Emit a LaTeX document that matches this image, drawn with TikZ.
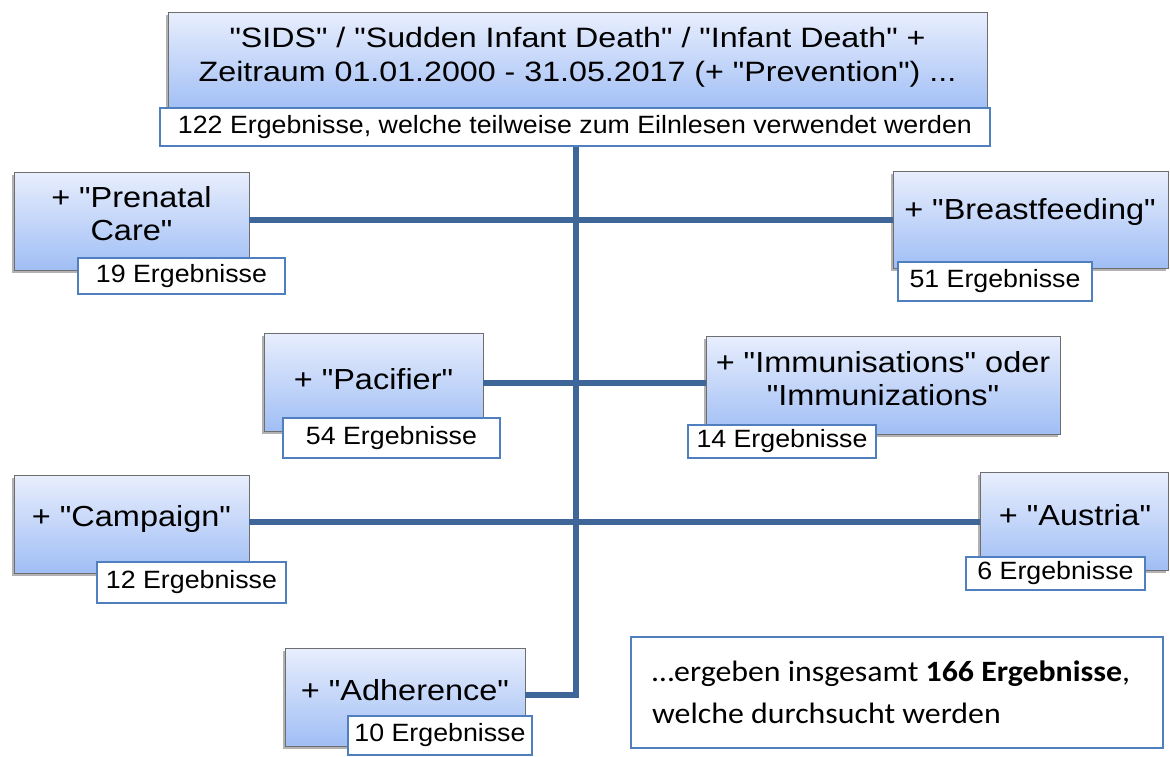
\documentclass[tikz,border=0pt]{standalone}
\usepackage{fontspec}
\setmainfont{Liberation Sans}[Ligatures=TeXOff]
\newfontfamily\headfont{Liberation Sans}[Ligatures=TeXOff, FakeStretch=1.15]
\newfontfamily\termfont{Liberation Sans}[Ligatures=TeXOff, FakeStretch=1.12]
\newfontfamily\tagfont{Liberation Sans}[Ligatures=TeXOff, FakeStretch=1.07]
\newfontfamily\calibrifont{Carlito}[FakeStretch=1.08]
\usetikzlibrary{shadows}
\definecolor{boxtop}{RGB}{232,238,253}
\definecolor{boxbot}{RGB}{160,190,245}
\definecolor{boxedge}{RGB}{110,110,110}
\definecolor{tagedge}{RGB}{79,127,191}
\definecolor{linkblue}{RGB}{62,102,152}
\tikzset{
  termbox/.style={rectangle, draw=boxedge, line width=0.8pt, top color=boxtop, bottom color=boxbot,
    inner sep=0pt, drop shadow={shadow xshift=-2pt, shadow yshift=-3pt, opacity=0.3, fill=black}},
  termtext/.style={font=\termfont\fontsize{29}{33}\selectfont, align=center, inner sep=0pt},
  headtext/.style={font=\headfont\fontsize{28}{34.5}\selectfont, align=center, inner sep=0pt},
  tagbox/.style={rectangle, draw=tagedge, line width=1.4pt, fill=white, inner sep=0pt,
    font=\tagfont\fontsize{25}{29}\selectfont},
  conn/.style={draw=linkblue, line width=5.5pt},
  sumbox/.style={rectangle, draw=tagedge, line width=1.4pt, fill=white, inner sep=0pt}
}
\begin{document}
\begin{tikzpicture}[x=1pt,y=-1pt]
\useasboundingbox (0,0) rectangle (1170,756);

% spine end points
\coordinate (spinetop) at (576,146);
\coordinate (spinebot) at (576,695);

% root term
\node[termbox, minimum width=819, minimum height=100] (root) at (577.5,62) {};
\node[headtext] (roottext) at (577.5,57) {"SIDS" / "Sudden Infant Death" / "Infant Death" +\\Zeitraum 01.01.2000 - 31.05.2017 (+ "Prevention") ...};

% sub terms
\node[termbox, minimum width=235, minimum height=98] (prenatal) at (131.5,221) {};
\node[termtext] (prenataltext) at (131.5,214) {+ "Prenatal\\Care"};

\node[termbox, minimum width=275, minimum height=97] (breast) at (1030.5,219.5) {};
\node[termtext] (breasttext) at (1030,212) {+ "Breastfeeding"};

\node[termbox, minimum width=219, minimum height=98] (pacifier) at (373.5,382) {};
\node[termtext] (pacifiertext) at (373.5,379) {+ "Pacifier"};

\node[termbox, minimum width=354, minimum height=98] (immun) at (883,385) {};
\node[termtext] (immuntext) at (883,379) {+ "Immunisations" oder\\"Immunizations"};

\node[termbox, minimum width=235, minimum height=98] (campaign) at (131.5,524) {};
\node[termtext] (campaigntext) at (131.5,519) {+ "Campaign"};

\node[termbox, minimum width=188, minimum height=98] (austria) at (1074,521) {};
\node[termtext] (austriatext) at (1075,515) {+ "Austria"};

\node[termbox, minimum width=240, minimum height=98] (adherence) at (405,697) {};
\node[termtext] (adherencetext) at (405,690) {+ "Adherence"};

% connectors
\draw[conn] (spinetop) -- (spinebot) -- (adherence.east |- spinebot);
\draw[conn] (prenatal.east |- 0,220) -- (breast.west |- 0,220);
\draw[conn] (pacifier.east |- 0,383) -- (immun.west |- 0,383);
\draw[conn] (campaign.east |- 0,522) -- (austria.west |- 0,522);

% result counts
\node[tagbox, minimum width=830, minimum height=38] (roottag) at (575,127) {122 Ergebnisse, welche teilweise zum Eilnlesen verwendet werden};
\node[tagbox, minimum width=207, minimum height=36] (prenataltag) at (181.5,276) {19 Ergebnisse};
\node[tagbox, minimum width=194, minimum height=39] (breasttag) at (995,281.5) {51 Ergebnisse};
\node[tagbox, minimum width=217, minimum height=40] (pacifiertag) at (391.5,438) {54 Ergebnisse};
\node[tagbox, minimum width=188, minimum height=33] (immuntag) at (782,441.5) {14 Ergebnisse};
\node[tagbox, minimum width=189, minimum height=41] (campaigntag) at (191.5,582.5) {12 Ergebnisse};
\node[tagbox, minimum width=179, minimum height=33] (austriatag) at (1055.5,573.5) {6 Ergebnisse};
\node[tagbox, minimum width=184, minimum height=39] (adherencetag) at (440,735.5) {10 Ergebnisse};

% summary
\node[sumbox, minimum width=532, minimum height=111] (summary) at (897,692.5) {};
\node[font=\calibrifont\fontsize{29.5}{42}\selectfont, align=left, anchor=west, inner sep=0pt] (summarytext) at (652,692)
  {…ergeben insgesamt \textbf{166 Ergebnisse},\\welche durchsucht werden};
\end{tikzpicture}
\end{document}
